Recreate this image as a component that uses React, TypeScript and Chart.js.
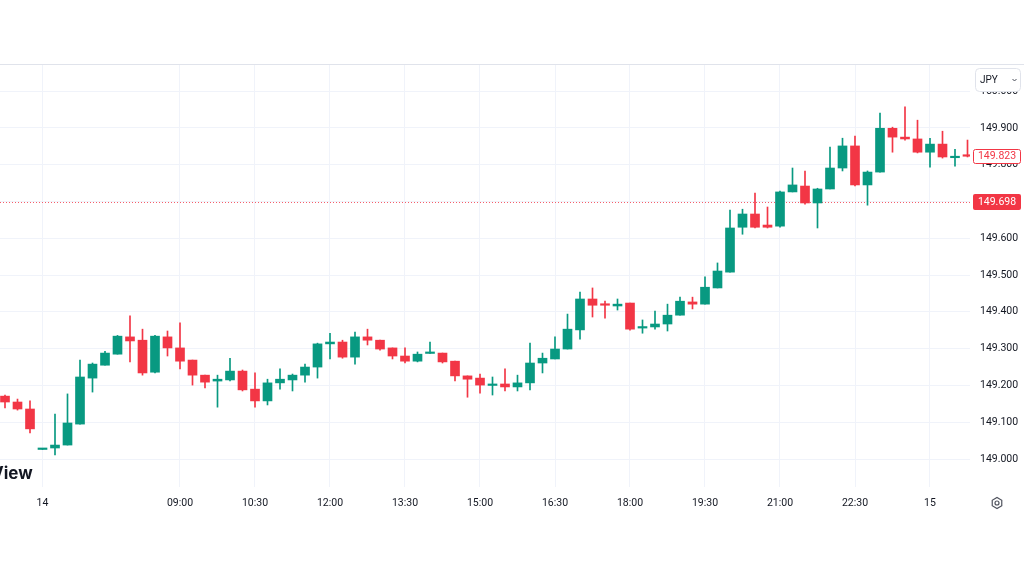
import React, { useEffect, useRef } from 'react';
import { Chart, registerables } from 'chart.js';

Chart.register(...registerables);

// 15-minute USD/JPY candles
const openP = [
  149.171, 149.155, 149.136, 149.026, 149.030, 149.038, 149.095, 149.220, 149.255, 149.285,
  149.332, 149.323, 149.236, 149.332, 149.302, 149.269, 149.228, 149.212, 149.215, 149.239,
  149.190, 149.158, 149.207, 149.215, 149.228, 149.250, 149.313, 149.318, 149.277, 149.332,
  149.323, 149.302, 149.280, 149.266, 149.287, 149.288, 149.266, 149.226, 149.220, 149.200,
  149.204, 149.196, 149.207, 149.261, 149.272, 149.299, 149.351, 149.435, 149.421, 149.416,
  149.424, 149.356, 149.359, 149.367, 149.391, 149.427, 149.421, 149.465, 149.508, 149.630,
  149.666, 149.636, 149.633, 149.726, 149.742, 149.696, 149.734, 149.791, 149.851, 149.745,
  149.780, 149.899, 149.875, 149.870, 149.834, 149.856, 149.819, 149.825,
];
const highP = [
  149.174, 149.163, 149.158, 149.029, 149.122, 149.177, 149.269, 149.261, 149.293, 149.336,
  149.389, 149.353, 149.336, 149.348, 149.370, 149.269, 149.228, 149.228, 149.274, 149.242,
  149.234, 149.217, 149.245, 149.231, 149.258, 149.315, 149.342, 149.323, 149.345, 149.353,
  149.323, 149.302, 149.302, 149.291, 149.318, 149.288, 149.266, 149.226, 149.231, 149.223,
  149.245, 149.228, 149.315, 149.288, 149.332, 149.394, 149.454, 149.465, 149.429, 149.435,
  149.424, 149.378, 149.402, 149.421, 149.440, 149.440, 149.495, 149.533, 149.677, 149.679,
  149.723, 149.685, 149.728, 149.791, 149.783, 149.736, 149.848, 149.872, 149.878, 149.783,
  149.940, 149.902, 149.957, 149.921, 149.872, 149.891, 149.842, 149.867,
];
const lowP = [
  149.139, 149.133, 149.071, 149.026, 149.011, 149.038, 149.095, 149.182, 149.255, 149.285,
  149.264, 149.228, 149.234, 149.280, 149.245, 149.201, 149.193, 149.141, 149.212, 149.185,
  149.141, 149.147, 149.190, 149.185, 149.209, 149.220, 149.272, 149.274, 149.258, 149.310,
  149.296, 149.272, 149.261, 149.264, 149.287, 149.261, 149.212, 149.168, 149.179, 149.174,
  149.185, 149.185, 149.188, 149.234, 149.272, 149.299, 149.326, 149.386, 149.383, 149.405,
  149.350, 149.342, 149.353, 149.348, 149.391, 149.408, 149.421, 149.465, 149.508, 149.611,
  149.628, 149.628, 149.630, 149.726, 149.693, 149.628, 149.734, 149.783, 149.742, 149.690,
  149.780, 149.834, 149.867, 149.832, 149.793, 149.818, 149.796, 149.821,
];
const closeP = [
  149.155, 149.136, 149.082, 149.029, 149.038, 149.098, 149.223, 149.258, 149.288, 149.334,
  149.321, 149.234, 149.334, 149.302, 149.266, 149.228, 149.209, 149.217, 149.239, 149.188,
  149.158, 149.207, 149.217, 149.228, 149.250, 149.313, 149.318, 149.277, 149.332, 149.323,
  149.299, 149.280, 149.266, 149.285, 149.288, 149.264, 149.226, 149.217, 149.201, 149.201,
  149.196, 149.207, 149.261, 149.274, 149.299, 149.353, 149.435, 149.418, 149.418, 149.421,
  149.353, 149.359, 149.367, 149.391, 149.429, 149.421, 149.467, 149.511, 149.628, 149.666,
  149.630, 149.630, 149.726, 149.745, 149.696, 149.734, 149.791, 149.851, 149.745, 149.780,
  149.899, 149.875, 149.870, 149.834, 149.856, 149.821, 149.821, 149.823,
];

// time axis labels (candle index -> label)
const xTickIndex = [3, 14, 20, 26, 32, 38, 44, 50, 56, 62, 68, 74];
const xTickText = ['14', '09:00', '10:30', '12:00', '13:30', '15:00', '16:30', '18:00', '19:30', '21:00', '22:30', '15'];

// price axis ticks
const priceTicks = [149.0, 149.1, 149.2, 149.3, 149.4, 149.5, 149.6, 149.7, 149.8, 149.9, 150.0];

const lastPrice = 149.823;
const markerPrice = 149.698;
const currencyLabel = 'JPY';
const watermark = 'View';

const UP = '#089981';
const DOWN = '#F23645';
const GRID = '#f0f3fa';
const TEXT = '#131722';
const FONT = 'Roboto, "Noto Sans", sans-serif';

export default function App() {
  const ref = useRef<HTMLCanvasElement>(null);

  useEffect(() => {
    document.body.style.margin = '0';
    const canvas = ref.current!;
    const idx = openP.map((_, i) => i);
    const colors = idx.map((i) => (closeP[i] >= openP[i] ? UP : DOWN));

    const overlay = {
      id: 'tvOverlay',
      beforeDatasetsDraw(chart: any) {
        const { ctx, chartArea, scales } = chart;
        const y = Math.round(scales.y.getPixelForValue(markerPrice)) + 0.5;
        ctx.save();
        ctx.strokeStyle = DOWN;
        ctx.globalAlpha = 0.8;
        ctx.lineWidth = 1;
        ctx.setLineDash([1, 2]);
        ctx.beginPath();
        ctx.moveTo(chartArea.left, y);
        ctx.lineTo(chartArea.right, y);
        ctx.stroke();
        ctx.restore();
      },
      afterDraw(chart: any) {
        const { ctx, chartArea, scales, width } = chart;
        ctx.save();
        // top border line
        ctx.strokeStyle = '#e0e3eb';
        ctx.lineWidth = 1;
        ctx.beginPath();
        ctx.moveTo(0, chartArea.top - 0.5);
        ctx.lineTo(width, chartArea.top - 0.5);
        ctx.stroke();

        const font = `10.5px ${FONT}`;
        ctx.font = font;
        ctx.textBaseline = 'middle';
        ctx.textAlign = 'center';

        // last price box (outlined)
        const yl = scales.y.getPixelForValue(lastPrice);
        ctx.beginPath();
        (ctx as any).roundRect(973.5, Math.round(yl - 7) + 0.5, 47, 14, 2);
        ctx.fillStyle = '#ffffff';
        ctx.fill();
        ctx.strokeStyle = DOWN;
        ctx.stroke();
        ctx.fillStyle = DOWN;
        ctx.fillText(lastPrice.toFixed(3), 997, yl + 0.5);

        // marker price box (filled)
        const ym = scales.y.getPixelForValue(markerPrice);
        ctx.beginPath();
        (ctx as any).roundRect(973, Math.round(ym - 8), 48, 16, 2);
        ctx.fillStyle = DOWN;
        ctx.fill();
        ctx.fillStyle = '#ffffff';
        ctx.fillText(markerPrice.toFixed(3), 997, ym + 0.5);

        // currency selector
        ctx.beginPath();
        (ctx as any).roundRect(975.5, 68.5, 45, 23, 4);
        ctx.fillStyle = '#ffffff';
        ctx.fill();
        ctx.strokeStyle = '#e0e3eb';
        ctx.stroke();
        ctx.fillStyle = TEXT;
        ctx.textAlign = 'left';
        ctx.font = `10px ${FONT}`;
        ctx.fillText(currencyLabel, 980, 80);
        ctx.strokeStyle = '#4a4e5a';
        ctx.lineWidth = 1;
        ctx.beginPath();
        ctx.moveTo(1012.5, 79);
        ctx.lineTo(1014.5, 81);
        ctx.lineTo(1016.5, 79);
        ctx.stroke();

        // settings gear
        const gx = 997, gy = 503;
        ctx.strokeStyle = '#50535e';
        ctx.lineWidth = 1.2;
        ctx.beginPath();
        for (let k = 0; k < 6; k++) {
          const a = Math.PI / 6 + (k * Math.PI) / 3;
          const px = gx + 5.5 * Math.cos(a);
          const py = gy + 5.5 * Math.sin(a);
          if (k === 0) ctx.moveTo(px, py); else ctx.lineTo(px, py);
        }
        ctx.closePath();
        ctx.stroke();
        ctx.beginPath();
        ctx.arc(gx, gy, 2, 0, Math.PI * 2);
        ctx.stroke();

        // watermark
        ctx.fillStyle = TEXT;
        ctx.font = `bold 17px Inter, ${FONT}`;
        ctx.textAlign = 'left';
        ctx.textBaseline = 'alphabetic';
        ctx.fillText(watermark, -9, 479);
        ctx.restore();
      },
    };

    const chart = new Chart(canvas, {
      type: 'bar',
      data: {
        datasets: [
          {
            label: 'body',
            data: idx.map((i) => ({ x: i, y: [openP[i], closeP[i]] })) as any,
            backgroundColor: colors,
            barThickness: 9,
            grouped: false,
            minBarLength: 1.5,
          } as any,
          {
            label: 'wick',
            data: idx.map((i) => ({ x: i, y: [lowP[i], highP[i]] })) as any,
            backgroundColor: colors,
            barThickness: 1,
            grouped: false,
          } as any,
        ],
      },
      options: {
        animation: false,
        responsive: false,
        devicePixelRatio: 1,
        layout: { padding: { top: 65, bottom: 59, left: 0, right: 0 } },
        plugins: { legend: { display: false }, tooltip: { enabled: false } },
        scales: {
          x: {
            type: 'linear',
            min: -0.4,
            max: 77.2,
            offset: false,
            grid: { color: GRID, drawTicks: false, offset: false },
            border: { display: false },
            afterBuildTicks: (s: any) => {
              s.ticks = xTickIndex.map((v) => ({ value: v }));
            },
            afterFit: (s: any) => {
              s.height = 30;
            },
            ticks: {
              padding: 10,
              autoSkip: false,
              maxRotation: 0,
              color: TEXT,
              font: { family: FONT, size: 10.5 },
              callback: (v: any) => {
                const k = xTickIndex.indexOf(Number(v));
                return k >= 0 ? xTickText[k] : '';
              },
            },
          },
          y: {
            position: 'right',
            min: 148.924,
            max: 150.071,
            grid: { color: GRID, drawTicks: false },
            border: { display: false },
            afterBuildTicks: (s: any) => {
              s.ticks = priceTicks.map((v) => ({ value: v }));
            },
            afterFit: (s: any) => {
              s.width = 54;
            },
            ticks: {
              padding: 10,
              color: TEXT,
              font: { family: FONT, size: 10.5 },
              callback: (v: any) => Number(v).toFixed(3),
            },
          },
        },
      } as any,
      plugins: [overlay],
    });

    return () => chart.destroy();
  }, []);

  return <canvas ref={ref} width={1024} height={576} style={{ display: 'block' }} />;
}
